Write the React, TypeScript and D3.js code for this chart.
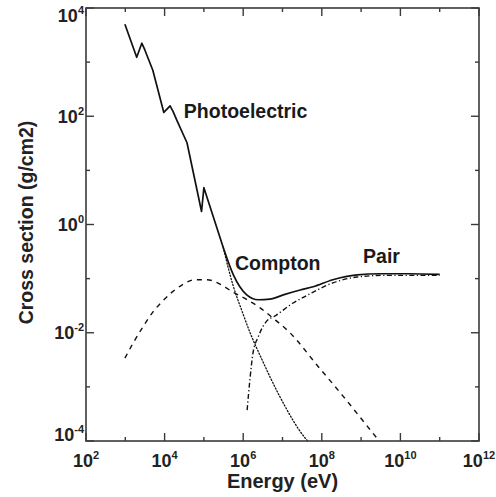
import React from "react";
import * as d3 from "d3";

// ---- Data (log10 values) ----
const totalLogE = [2.99, 3.29, 3.42, 3.5, 3.7, 3.98, 4.14, 4.22, 4.31, 4.57, 4.94, 5.0, 5.49, 5.75, 6.09, 6.38, 6.68, 7.02, 7.45, 7.78, 8.28, 8.9, 9.48, 10.2, 11.0];
const totalLogS = [3.7, 3.09, 3.35, 3.22, 2.85, 2.07, 2.19, 2.08, 1.93, 1.51, 0.24, 0.68, -0.42, -0.93, -1.3, -1.39, -1.38, -1.3, -1.21, -1.15, -1.02, -0.93, -0.91, -0.91, -0.92];
// index in the total series after which the curve is smooth (absorption edges before it)
const totalEdgeEnd = 12;

const photoLogE = [5.49, 5.74, 5.97, 6.17, 6.48, 6.94, 7.57, 7.64];
const photoLogS = [-0.42, -1.12, -1.6, -1.99, -2.5, -3.19, -3.94, -4.0];

const comptonLogE = [2.99, 3.2, 3.45, 3.7, 3.93, 4.19, 4.44, 4.77, 5.08, 5.41, 5.74, 6.1, 6.43, 6.76, 7.19, 7.88, 8.54, 9.15, 9.46];
const comptonLogS = [-2.47, -2.19, -1.89, -1.62, -1.43, -1.25, -1.12, -1.02, -1.02, -1.1, -1.25, -1.39, -1.54, -1.73, -2.0, -2.6, -3.17, -3.72, -4.0];

const pairLogE = [6.1, 6.17, 6.25, 6.38, 6.63, 6.76, 7.27, 7.65, 8.28, 8.9, 9.6, 11.0];
const pairLogS = [-3.43, -2.87, -2.37, -2.08, -1.76, -1.71, -1.45, -1.3, -1.08, -0.97, -0.94, -0.94];

const xTickExps = [2, 3, 4, 5, 6, 7, 8, 9, 10, 11, 12];
const xLabelExps = ["2", "4", "6", "8", "10", "12"];
const yTickExps = [-4, -3, -2, -1, 0, 1, 2, 3, 4];
const yLabelExps = ["-4", "-2", "0", "2", "4"];

const curveLabels = [
  { text: "Photoelectric", logE: 4.49, logS: 1.97 },
  { text: "Compton", logE: 5.79, logS: -0.84 },
  { text: "Pair", logE: 9.05, logS: -0.71 },
];

const W = 496;
const H = 497;
const M = { left: 86, right: 479, top: 8, bottom: 441 };

export default function App() {
  const x = d3.scaleLog().domain([1e2, 1e12]).range([M.left, M.right]);
  const y = d3.scaleLog().domain([1e-4, 1e4]).range([M.bottom, M.top]);

  const mk = (le: number[], ls: number[]) => le.map((e, i) => [Math.pow(10, e), Math.pow(10, ls[i])] as [number, number]);
  const lineLin = d3.line<[number, number]>().x((d) => x(d[0])).y((d) => y(d[1]));
  const lineSmooth = d3
    .line<[number, number]>()
    .x((d) => x(d[0]))
    .y((d) => y(d[1]))
    .curve(d3.curveMonotoneX);

  const total = mk(totalLogE, totalLogS);
  const totalEdges = total.slice(0, totalEdgeEnd + 1);
  const totalSmooth = total.slice(totalEdgeEnd);

  const font = "'Liberation Sans', Arial, Helvetica, sans-serif";
  const axisColor = "#3a3a3a";
  const ink = "#111";

  return (
    <svg width={W} height={H} style={{ position: "absolute", left: 0, top: 0, background: "#fff" }} fontFamily={font}>
      {/* curves */}
      <path d={lineSmooth(mk(photoLogE, photoLogS)) || ""} fill="none" stroke={ink} strokeWidth={1.3} strokeDasharray="1.2,2" strokeLinecap="round" />
      <path d={lineSmooth(mk(comptonLogE, comptonLogS)) || ""} fill="none" stroke={ink} strokeWidth={1.4} strokeDasharray="5,5" />
      <path d={lineSmooth(mk(pairLogE, pairLogS)) || ""} fill="none" stroke={ink} strokeWidth={1.4} strokeDasharray="5,2.5,1.2,2.5" />
      <path d={lineLin(totalEdges) || ""} fill="none" stroke={ink} strokeWidth={1.7} strokeLinejoin="round" />
      <path d={lineSmooth(totalSmooth) || ""} fill="none" stroke={ink} strokeWidth={1.7} strokeLinejoin="round" />

      {/* frame */}
      <rect x={M.left} y={M.top} width={M.right - M.left} height={M.bottom - M.top} fill="none" stroke={axisColor} strokeWidth={1.6} />

      {/* x ticks */}
      {xTickExps.map((e) => {
        const px = x(Math.pow(10, e));
        const len = e % 2 === 0 ? 8 : 4;
        return (
          <g key={"xt" + e} stroke={axisColor} strokeWidth={1.4}>
            <line x1={px} x2={px} y1={M.bottom} y2={M.bottom - len} />
            <line x1={px} x2={px} y1={M.top} y2={M.top + len} />
          </g>
        );
      })}
      {/* y ticks */}
      {yTickExps.map((e) => {
        const py = y(Math.pow(10, e));
        const len = e % 2 === 0 ? 8 : 4;
        return (
          <g key={"yt" + e} stroke={axisColor} strokeWidth={1.4}>
            <line x1={M.left} x2={M.left + len} y1={py} y2={py} />
            <line x1={M.right} x2={M.right - len} y1={py} y2={py} />
          </g>
        );
      })}

      {/* x tick labels */}
      {xLabelExps.map((e) => {
        const px = x(Math.pow(10, +e));
        return (
          <text key={"xl" + e} x={px} y={467} textAnchor="middle" fontSize={18} fontWeight="bold" fill="#222">
            10
            <tspan fontSize={11} dy={-8}>
              {e}
            </tspan>
          </text>
        );
      })}
      {/* y tick labels */}
      {yLabelExps.map((e) => {
        const py = y(Math.pow(10, +e));
        const base = Math.max(22, Math.min(441, py + 6.5));
        return (
          <text key={"yl" + e} x={84} y={base} textAnchor="end" fontSize={18} fontWeight="bold" fill="#222">
            10
            <tspan fontSize={11} dy={-8}>
              {e}
            </tspan>
          </text>
        );
      })}

      {/* axis titles */}
      <text x={(M.left + M.right) / 2} y={488} textAnchor="middle" fontSize={20} fontWeight="bold" fill="#222">
        Energy (eV)
      </text>
      <text transform={`translate(33,${222.5}) rotate(-90)`} textAnchor="middle" fontSize={19.5} fontWeight="bold" fill="#222">
        Cross section (g/cm2)
      </text>

      {/* curve labels */}
      {curveLabels.map((l) => (
        <text key={l.text} x={x(Math.pow(10, l.logE))} y={y(Math.pow(10, l.logS))} fontSize={19.5} fontWeight="bold" fill="#1a1a1a">
          {l.text}
        </text>
      ))}
    </svg>
  );
}
